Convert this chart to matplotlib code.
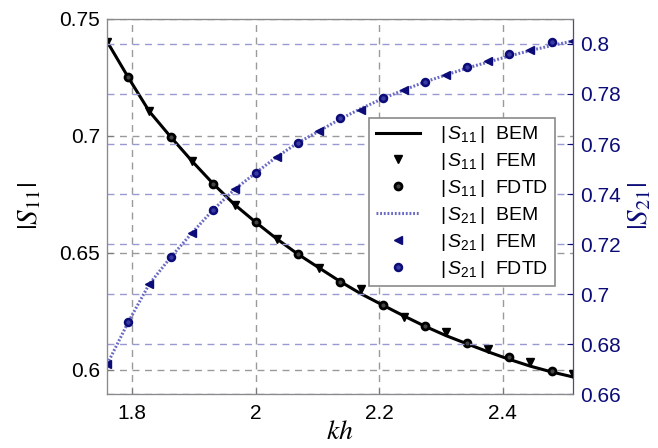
import matplotlib
matplotlib.use("Agg")
import matplotlib.pyplot as plt
from matplotlib.font_manager import FontProperties

plt.rcParams['font.family'] = ['Liberation Sans', 'DejaVu Sans']
plt.rcParams['mathtext.fontset'] = 'custom'
plt.rcParams['mathtext.rm'] = 'Liberation Sans'
plt.rcParams['mathtext.it'] = 'Liberation Sans:italic'

NAVY = '#0c0c78'
DOTBLUE = '#6a6ac4'

# kh sample points
kh = [1.760, 1.794, 1.828, 1.863, 1.897, 1.931, 1.966, 2.000, 2.034, 2.068, 2.103, 2.137,
      2.171, 2.206, 2.240, 2.274, 2.308, 2.343, 2.377, 2.411, 2.445, 2.480, 2.514]

# |S11|
s11_bem = [0.7402, 0.7250, 0.7105, 0.6995, 0.6893, 0.6797, 0.6707, 0.6632, 0.6561, 0.6496,
           0.6436, 0.6378, 0.6325, 0.6277, 0.6231, 0.6187, 0.6147, 0.6111, 0.6077, 0.6045,
           0.6016, 0.5991, 0.5970]
s11_fem = [0.7402, 0.7107, 0.6893, 0.6705, 0.6560, 0.6436, 0.6346, 0.6226, 0.6162, 0.6090, 0.6034, 0.5983]
s11_fdtd = [0.7252, 0.6996, 0.6795, 0.6632, 0.6496, 0.6376, 0.6278, 0.6188, 0.6115, 0.6056, 0.5996]

# |S21|
s21_bem = [0.6720, 0.6888, 0.7040, 0.7148, 0.7244, 0.7336, 0.7418, 0.7484, 0.7548, 0.7604,
           0.7652, 0.7700, 0.7742, 0.7782, 0.7816, 0.7848, 0.7876, 0.7904, 0.7928, 0.7952,
           0.7974, 0.7994, 0.8012]
s21_fem = [0.6720, 0.7040, 0.7244, 0.7420, 0.7548, 0.7652, 0.7735, 0.7816, 0.7876, 0.7932, 0.7976, 0.8012]
s21_fdtd = [0.6888, 0.7148, 0.7336, 0.7484, 0.7604, 0.7704, 0.7784, 0.7848, 0.7908, 0.7960, 0.8008]

xticks = [1.8, 2.0, 2.2, 2.4]
xticklabels = ['1.8', '2', '2.2', '2.4']
lticks = [0.6, 0.65, 0.7, 0.75]
lticklabels = ['0.6', '0.65', '0.7', '0.75']
rticks = [0.66, 0.68, 0.70, 0.72, 0.74, 0.76, 0.78, 0.80]
rticklabels = ['0.66', '0.68', '0.7', '0.72', '0.74', '0.76', '0.78', '0.8']

fig = plt.figure(figsize=(6.58, 4.48), dpi=100)
ax = fig.add_axes([0.1626, 0.1205, 0.7082, 0.8371])
ax2 = ax.twinx()

h1, = ax.plot(kh, s11_bem, color='black', lw=2.2, label=r'$|\,S_{11}\,|$  BEM')
h2, = ax.plot(kh[0::2], s11_fem, 'v', color='black', ms=5.5, ls='none', label=r'$|\,S_{11}\,|$  FEM')
h3, = ax.plot(kh[1::2], s11_fdtd, 'o', mfc='#444444', mec='black', mew=2, ms=5, ls='none',
              label=r'$|\,S_{11}\,|$  FDTD')

h4, = ax2.plot(kh, s21_bem, color=DOTBLUE, lw=2.2, ls=(0, (0.6, 0.6)), label=r'$|\,S_{21}\,|$  BEM')
h5, = ax2.plot(kh[0::2], s21_fem, '<', color=NAVY, ms=5.5, ls='none', label=r'$|\,S_{21}\,|$  FEM')
h6, = ax2.plot(kh[1::2], s21_fdtd, 'o', mfc='#3a3aa0', mec=NAVY, mew=1.8, ms=5, ls='none',
               label=r'$|\,S_{21}\,|$  FDTD')

ax.set_xlim(1.7595, 2.514)
ax.set_ylim(0.5897, 0.75)
ax2.set_ylim(0.66, 0.81)

ax.set_xticks(xticks)
ax.set_xticklabels(xticklabels)
ax.set_yticks(lticks)
ax.set_yticklabels(lticklabels)
ax2.set_yticks(rticks)
ax2.set_yticklabels(rticklabels)

ax.grid(True, color='#9a9a9a', ls=(0, (5, 4)), lw=1)
ax2.grid(True, axis='y', color='#9a9ad2', ls=(0, (5, 4)), lw=1)

ax.tick_params(direction='in', length=4, labelsize=15, colors='#7a7a7a', labelcolor='black', pad=5)
ax.tick_params(axis='x', pad=7)
ax2.tick_params(direction='in', length=4, labelsize=15, colors=NAVY, labelcolor=NAVY, pad=5)

for s in ['left', 'bottom', 'top']:
    ax2.spines[s].set_color('#8a8a8a')
ax2.spines['right'].set_color('#4a4a9a')

ax.set_xlabel(r'$kh$', fontsize=20, math_fontfamily='stix', labelpad=-3)
ax.set_ylabel(r'$|S_{11}|$', fontsize=21, math_fontfamily='stix', labelpad=12)
ax2.set_ylabel(r'$|S_{21}|$', fontsize=21, math_fontfamily='stix', color=NAVY, labelpad=3)

leg = ax2.legend(handles=[h1, h2, h3, h4, h5, h6], loc='upper right',
                 bbox_to_anchor=(0.961, 0.737), borderaxespad=0, fancybox=False, framealpha=1,
                 edgecolor='#8a8a8a', prop=FontProperties(family='Liberation Sans', size=14),
                 handlelength=2.3, borderpad=0.35, labelspacing=0.3, handletextpad=1.0)
leg.get_frame().set_linewidth(1.2)

fig.savefig('out.png', dpi=100)
